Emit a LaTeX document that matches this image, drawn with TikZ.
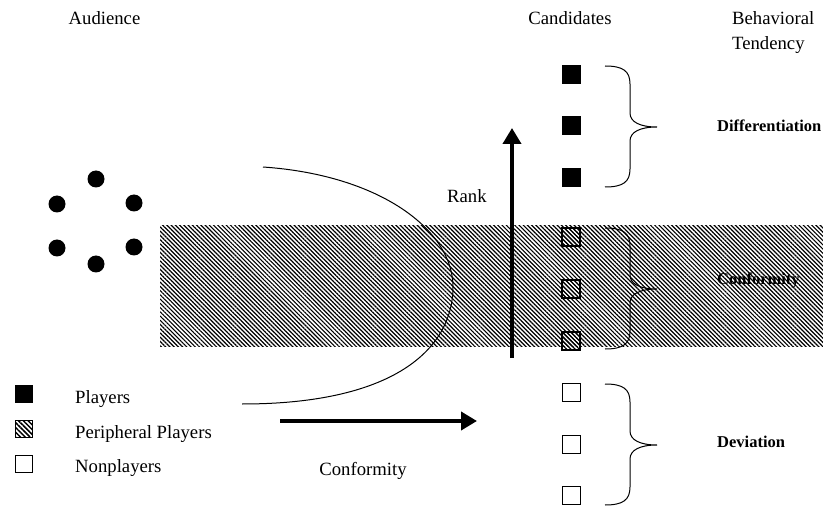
\documentclass[tikz,border=0pt]{standalone}
\usepackage{fontspec}
\setmainfont{Liberation Serif}
\usetikzlibrary{arrows.meta,patterns.meta}
\begin{document}
\begin{tikzpicture}[x=1pt,y=-1pt,
  txt/.style={font=\fontsize{18.7}{25}\selectfont, inner sep=0pt},
  lbl/.style={font=\fontsize{16.5}{20}\selectfont\bfseries, inner sep=0pt, anchor=base west},
  dot/.style={circle, fill=black, minimum size=17pt, inner sep=0pt},
  player/.style={draw=black, fill=black, minimum size=18pt, inner sep=0pt, line width=1pt},
  periph/.style={draw=black, line width=1.2pt, minimum size=18pt, inner sep=0pt, pattern={Lines[angle=-45,distance=3pt,line width=1.1pt]}},
  nonpl/.style={draw=black, fill=white, line width=1pt, minimum size=18pt, inner sep=0pt},
  legplayer/.style={player, minimum size=17pt},
  legperiph/.style={draw=black, line width=1pt, minimum size=17pt, inner sep=0pt, pattern={Lines[angle=-45,distance=3.4pt,line width=1.5pt]}},
  legnon/.style={nonpl, minimum size=17pt},
  bigarrow/.style={line width=3.8pt, -{Triangle[length=16pt,width=18pt]}},
  bandfill/.style={pattern={Lines[angle=-45,distance=3pt,line width=1.2pt]}},
  brc/.pic={\draw[line width=1pt] (0,0) .. controls (18,0) and (25,5) .. (25,18) -- (25,47)
      .. controls (25,56) and (35,61) .. (52,61) .. controls (35,61) and (25,66) .. (25,75)
      -- (25,103) .. controls (25,116) and (18,121) .. (0,121);}
]
\useasboundingbox (0,0) rectangle (823,508);

% hatched band
\fill[bandfill] (160,226) rectangle (823,346);

% headers
\node[txt, anchor=base] (aud) at (104.5,25) {Audience};
\node[txt, anchor=base] (cand) at (570,25) {Candidates};
\node[txt, anchor=base west] (beh) at (732,25) {Behavioral};
\node[txt, anchor=base west] (tend) at (732,50) {Tendency};

% audience dots
\node[dot] (d1) at (96,179) {};
\node[dot] (d2) at (57,204) {};
\node[dot] (d3) at (134,203) {};
\node[dot] (d4) at (57,248) {};
\node[dot] (d5) at (134,247) {};
\node[dot] (d6) at (96,264) {};

% arc
\coordinate (arcA) at (263,167);
\coordinate (arcM) at (453,287);
\coordinate (arcB) at (242,404);
\draw[line width=1pt] (arcA) .. controls (380,175) and (453,230) .. (arcM)
  .. controls (453,345) and (400,404) .. (arcB);

% rank arrow
\coordinate (rankS) at (512,358);
\coordinate (rankE) at (512,128);
\draw[bigarrow] (rankS) -- (rankE);
\node[txt, anchor=base west] (rank) at (447,203) {Rank};

% conformity arrow
\coordinate (confS) at (280,421);
\coordinate (confE) at (477,421);
\draw[bigarrow] (confS) -- (confE);
\node[txt, anchor=base] (conf) at (363,475) {Conformity};

% candidates
\node[player] (p1) at (571,75) {};
\node[player] (p2) at (571,126) {};
\node[player] (p3) at (571,178) {};
\node[periph] (q1) at (571,237) {};
\node[periph] (q2) at (571,289) {};
\node[periph] (q3) at (571,341) {};
\node[nonpl] (n1) at (571,392) {};
\node[nonpl] (n2) at (571,444) {};
\node[nonpl] (n3) at (571,495) {};

% braces
\pic at (605,66) {brc};
\pic at (605,228) {brc};
\pic at (605,384) {brc};

% tendency labels
\node[lbl] (diff) at (717,132) {Differentiation};
\node[lbl] (confb) at (717,284) {Conformity};
\node[lbl] (dev) at (717,447) {Deviation};

% legend
\node[legplayer] (lp) at (23.5,394) {};
\node[legperiph] (lq) at (23.5,428.5) {};
\node[legnon] (ln) at (23.5,463.5) {};
\node[txt, anchor=base west] (lpt) at (75,403) {Players};
\node[txt, anchor=base west] (lqt) at (75,438) {Peripheral Players};
\node[txt, anchor=base west] (lnt) at (75,472) {Nonplayers};
\end{tikzpicture}
\end{document}
